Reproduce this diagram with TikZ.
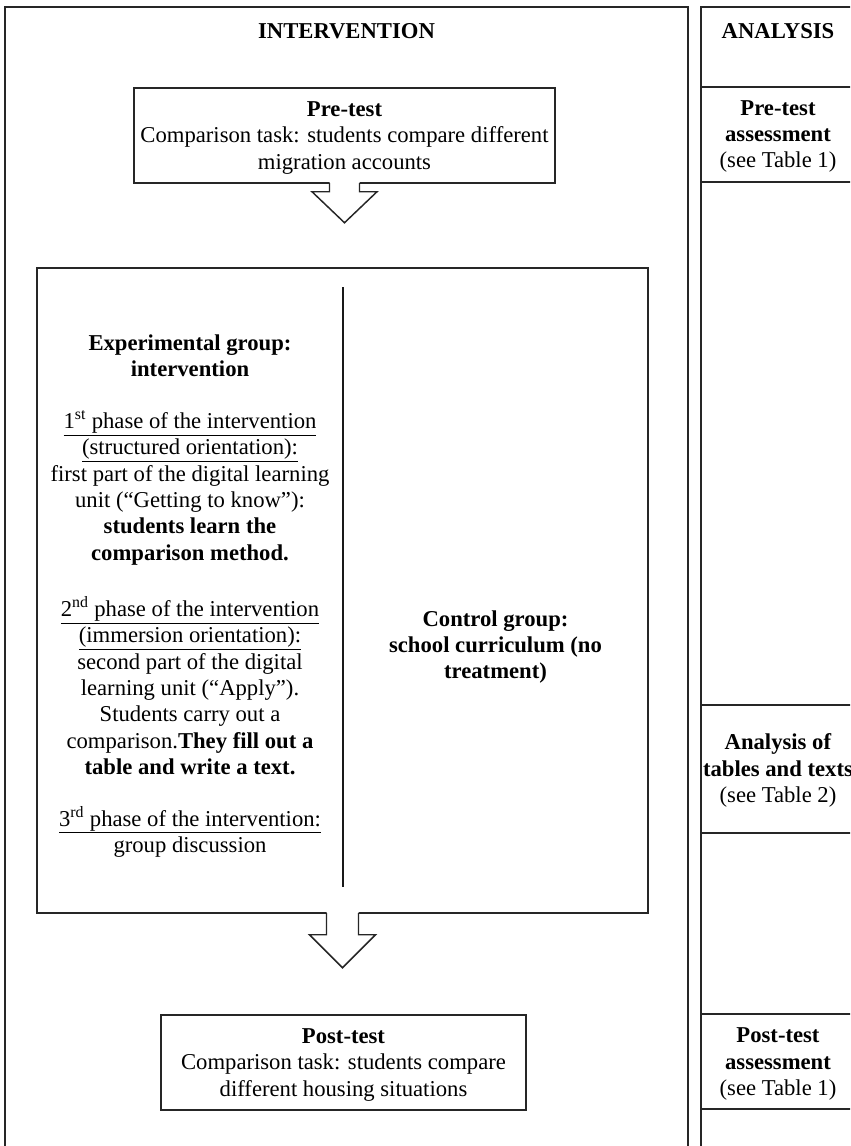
\documentclass[tikz,border=0pt]{standalone}
\usepackage{fontspec}
\setmainfont{Liberation Serif}
\usetikzlibrary{calc,fit}
\newcommand\diagfont{\fontsize{17}{19.8}\selectfont}
\begin{document}
\begin{tikzpicture}[x=0.75pt,y=-0.75pt,
  frame/.style={draw=black!85, line width=1.1pt, inner sep=0pt},
  txt/.style={align=center, font=\diagfont, inner sep=0pt},
  hdr/.style={txt, font=\diagfont\bfseries},
  arrowline/.style={draw=black!85, line width=1.1pt, line join=miter},
  divider/.style={draw=black!90, line width=2.2pt}]
\useasboundingbox (0,0) rectangle (850,1146);
\clip (0,0) rectangle (850,1146);

% outer columns
\node[frame, fit={(5,7) (688,1170)}] (interv) {};
\node[frame, fit={(701,7) (855,1170)}] (analysis) {};
\node[hdr] (ihead) at (346.5,31) {INTERVENTION};
\node[hdr] (ahead) at (778,31) {ANALYSIS};

% analysis cells
\node[frame, fit={(701,87) (855,182)}] (apre) {};
\node[frame, fit={(701,705) (855,833)}] (atab) {};
\node[frame, fit={(701,1014) (855,1109)}] (apost) {};
\node[txt] (apretext) at (778,136.5) {\textbf{Pre-test}\\\textbf{assessment}\\(see Table 1)};
\node[txt] (atabtext) at (778,770.5) {\textbf{Analysis of}\\\textbf{tables and texts}\\(see Table 2)};
\node[txt] (aposttext) at (778,1064) {\textbf{Post-test}\\\textbf{assessment}\\(see Table 1)};

% pre-test
\node[frame, fit={(134,88) (555,183)}] (pre) {};
\node[txt] (pretext) at (344.5,138) {\textbf{Pre-test}\\Comparison task: students compare different\\migration accounts};

% intervention period
\node[frame, fit={(37,268) (648,913)}] (mid) {};
\coordinate (divtop) at (343,287);
\coordinate (divbot) at (343,887);
\draw[divider] (divtop) -- (divbot);

\node[txt] (exp) at (190,356) {\textbf{Experimental group:}\\\textbf{intervention}};
\node[txt] (phase1) at (190,488) {\underline{1\textsuperscript{st} phase of the intervention}\\
  \underline{(structured orientation):}\\
  first part of the digital learning\\
  unit (“Getting to know”):\\
  \textbf{students learn the}\\
  \textbf{comparison method.}};
\node[txt] (phase2) at (190,686) {\underline{2\textsuperscript{nd} phase of the intervention}\\
  \underline{(immersion orientation):}\\
  second part of the digital\\
  learning unit (“Apply”).\\
  Students carry out a\\
  comparison.\textbf{They fill out a}\\
  \textbf{table and write a text.}};
\node[txt] (phase3) at (190,832) {\underline{3\textsuperscript{rd} phase of the intervention:}\\group discussion};

\node[txt] (control) at (495.5,647) {\textbf{Control group:}\\\textbf{school curriculum (no}\\\textbf{treatment)}};

% post-test
\node[frame, fit={(161,1015) (526,1110)}] (post) {};
\node[txt] (posttext) at (343.5,1065) {\textbf{Post-test}\\Comparison task: students compare\\different housing situations};

% hollow block arrows
\fill[white] ($(pre.south)+(-15,-2)$) -- ($(pre.south)+(-15,8)$) -- ($(pre.south)+(-32.5,8)$)
  -- ($(pre.south)+(0,39)$) -- ($(pre.south)+(32.5,8)$) -- ($(pre.south)+(15,8)$)
  -- ($(pre.south)+(15,-2)$) -- cycle;
\draw[arrowline] ($(pre.south)+(-15,-0.5)$) -- ($(pre.south)+(-15,8)$) -- ($(pre.south)+(-32.5,8)$)
  -- ($(pre.south)+(0,39)$) -- ($(pre.south)+(32.5,8)$) -- ($(pre.south)+(15,8)$)
  -- ($(pre.south)+(15,-0.5)$);

\fill[white] ($(mid.south)+(-16,-2)$) -- ($(mid.south)+(-16,21)$) -- ($(mid.south)+(-33,21)$)
  -- ($(mid.south)+(0,54)$) -- ($(mid.south)+(33,21)$) -- ($(mid.south)+(16,21)$)
  -- ($(mid.south)+(16,-2)$) -- cycle;
\draw[arrowline] ($(mid.south)+(-16,-0.5)$) -- ($(mid.south)+(-16,21)$) -- ($(mid.south)+(-33,21)$)
  -- ($(mid.south)+(0,54)$) -- ($(mid.south)+(33,21)$) -- ($(mid.south)+(16,21)$)
  -- ($(mid.south)+(16,-0.5)$);
\end{tikzpicture}
\end{document}
